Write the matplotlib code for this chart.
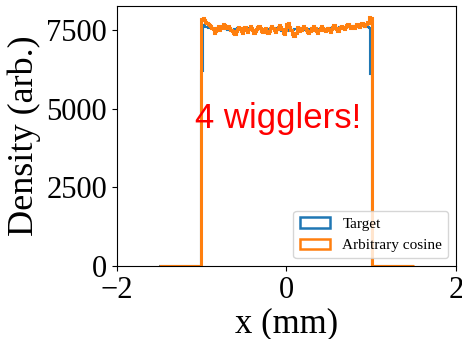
import numpy as np
import matplotlib
matplotlib.use("Agg")
import matplotlib.pyplot as plt
from matplotlib.patches import Patch

plt.rcParams['font.family'] = ['Liberation Serif', 'DejaVu Serif']

# histogram range and the empty bins on either side of the beam
x_range = (-1.5, 1.5)
n_empty = 33

# density inside |x| < 1 (bins left to right)
target_core = [
    7650, 7630, 7600, 7610, 7580, 7600, 7590, 7560, 7540, 7520, 7530, 7550,
    7580, 7600, 7590, 7570, 7560, 7550, 7530, 7510, 7500, 7520, 7510, 7490,
    7500, 7520, 7540, 7560, 7550, 7530, 7510, 7500, 7520, 7540, 7560, 7550,
    7540, 7520, 7500, 7510, 7490, 7480, 7500, 7510, 7530, 7540, 7520, 7510,
    7490, 7500, 7510, 7520, 7530, 7550, 7570, 7580, 7560, 7550, 7530, 7510,
    7500, 7490, 7470, 7460, 7450, 7460, 7480, 7500, 7510, 7500, 7490, 7510,
    7520, 7530, 7540, 7550, 7560, 7550, 7530, 7520, 7510, 7500, 7510, 7500,
    7520, 7540, 7550, 7570, 7560, 7540, 7530, 7520, 7530, 7550, 7560, 7540,
    7520, 7510, 7530, 7550, 7570, 7580, 7600, 7580, 7570, 7560, 7580, 7590,
    7600, 7610, 7600, 7590, 7580, 7600, 7620, 7610, 7630, 7640, 7620, 7600,
    7580, 7600, 7620, 7640, 7660, 7650, 7630, 7610, 7600, 7620, 7600, 7580,
]
cosine_core = [
    7880, 7820, 7760, 7720, 7700, 7650, 7620, 7580, 7540, 7420, 7460, 7580,
    7620, 7500, 7560, 7640, 7700, 7660, 7560, 7600, 7640, 7560, 7500, 7460,
    7400, 7380, 7480, 7540, 7600, 7580, 7460, 7420, 7560, 7600, 7500, 7440,
    7520, 7620, 7560, 7500, 7420, 7460, 7540, 7600, 7640, 7560, 7480, 7440,
    7520, 7580, 7460, 7400, 7480, 7560, 7620, 7580, 7500, 7440, 7520, 7600,
    7660, 7600, 7520, 7400, 7380, 7500, 7680, 7720, 7600, 7500, 7380, 7320,
    7300, 7420, 7600, 7560, 7460, 7500, 7560, 7620, 7580, 7500, 7440, 7400,
    7480, 7560, 7500, 7620, 7580, 7480, 7420, 7500, 7580, 7640, 7560, 7500,
    7460, 7520, 7580, 7500, 7440, 7520, 7600, 7660, 7580, 7520, 7480, 7560,
    7600, 7640, 7580, 7540, 7600, 7660, 7700, 7620, 7560, 7600, 7640, 7580,
    7620, 7680, 7640, 7600, 7660, 7720, 7680, 7620, 7700, 7760, 7720, 7900,
]
# bins straddling the beam edges
target_edges = [6200, 6100]
cosine_edges = [7850, 7880]

target = [0] * n_empty + [target_edges[0]] + target_core + [target_edges[1]] + [0] * n_empty
cosine = [0] * n_empty + [cosine_edges[0]] + cosine_core + [cosine_edges[1]] + [0] * n_empty
bins = np.linspace(x_range[0], x_range[1], len(target) + 1)

blue, orange = '#1f77b4', '#ff7f0e'

fig = plt.figure(figsize=(4.62, 3.39), dpi=100)
ax = fig.add_axes([0.253, 0.215, 0.734, 0.767])

ax.stairs(target, bins, color=blue, lw=1.5)
ax.stairs(cosine, bins, color=orange, lw=2.2)

ax.text(-0.1, 4680, '4 wigglers!', color='red', fontsize=25,
        family=['Liberation Sans', 'DejaVu Sans'], ha='center', va='center')

ax.set_xlim(-2, 2)
ax.set_ylim(0, 8260)
ax.set_xticks([-2, 0, 2])
ax.set_yticks([0, 2500, 5000, 7500])
ax.tick_params(labelsize=22)
ax.set_xlabel('x (mm)', fontsize=25, labelpad=2)
ax.set_ylabel('Density (arb.)', fontsize=26)

handles = [Patch(fill=False, edgecolor=blue, lw=1.8, label='Target'),
           Patch(fill=False, edgecolor=orange, lw=1.8, label='Arbitrary cosine')]
ax.legend(handles=handles, loc='lower right', fontsize=11)

fig.savefig('out.png', dpi=100)
